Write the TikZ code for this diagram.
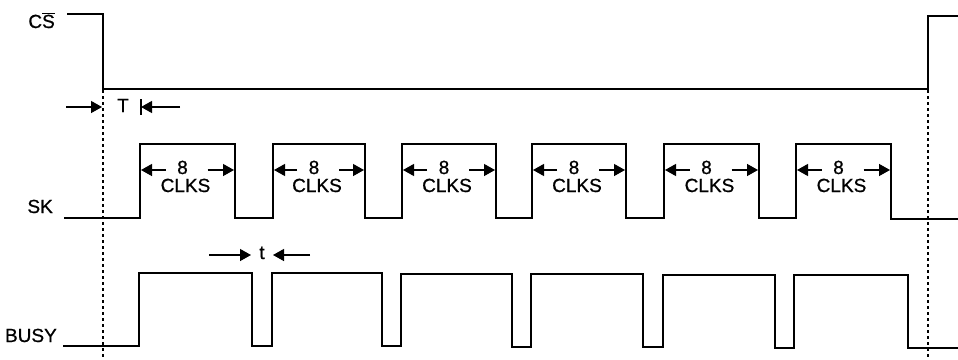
\documentclass[tikz,border=0pt]{standalone}
\usepackage{fontspec}
\setmainfont{Liberation Sans}[BoldFont=Liberation Sans,BoldFeatures={FakeBold=0.8}]
\usetikzlibrary{arrows.meta}
\begin{document}
\begin{tikzpicture}[x=1pt,y=-1pt,
  wave/.style={line width=1.4pt,line join=miter},
  guide/.style={line width=1.2pt,dash pattern=on 3pt off 3pt},
  dim/.style={line width=1.3pt,-{Triangle[length=11pt,width=12pt]}},
  lbl/.style={font=\fontsize{19}{21}\bfseries,inner sep=0pt},
  sig/.style={lbl,anchor=base east}]
\useasboundingbox (0,0) rectangle (958,359);
% labels
\node[sig] (cs) at (55,28) {C$\overline{\mbox{S}}$};
\node[sig] (sk) at (53,213) {SK};
\node[sig] (busy) at (57,342) {BUSY};
% CS waveform
\draw[wave] (67,14) -- (103,14) -- (103,89) -- (928,89) -- (928,16) -- (958,16);
% guides
\draw[guide] (103,90) -- (103,359);
\draw[guide] (928,90) -- (928,359);
% SK waveform
\draw[wave] (64,218) -- (140,218) -- (140,144) -- (235,144) -- (235,218)
  -- (273,218) -- (273,144) -- (365,144) -- (365,218)
  -- (402,218) -- (402,144) -- (496,144) -- (496,218)
  -- (532,218) -- (532,144) -- (626,144) -- (626,218)
  -- (664,218) -- (664,144) -- (759,144) -- (759,218)
  -- (796,218) -- (796,144) -- (891,144) -- (891,219) -- (958,219);
% BUSY waveform
\draw[wave] (63,346) -- (139,346) -- (139,273) -- (252,273) -- (252,346)
  -- (272,346) -- (272,273) -- (382,273) -- (382,346)
  -- (401,346) -- (401,274) -- (512,274) -- (512,347)
  -- (531,347) -- (531,274) -- (643,274) -- (643,347)
  -- (663,347) -- (663,275) -- (775,275) -- (775,348)
  -- (794,348) -- (794,275) -- (908,275) -- (908,348) -- (958,348);
% T dimension
\node[lbl,anchor=base] (T) at (123,112) {T};
\coordinate (ta1) at (66,107);
\coordinate (ta2) at (102,107);
\coordinate (tb1) at (180,107);
\coordinate (tb2) at (141,107);
\draw[dim] (ta1) -- (ta2);
\draw[dim] (tb1) -- (tb2);
\draw[line width=1.3pt] (141,99) -- (141,115);
% t dimension
\node[lbl,anchor=base] (tsmall) at (262,259) {t};
\coordinate (sa1) at (209,255);
\coordinate (sa2) at (251,255);
\coordinate (sb1) at (310,255);
\coordinate (sb2) at (273,255);
\draw[dim] (sa1) -- (sa2);
\draw[dim] (sb1) -- (sb2);
% 8 CLKS labels
\foreach \L/\R [count=\i] in {140/235,273/365,402/496,532/626,664/759,796/891}{
  \pgfmathsetmacro{\c}{(\L+\R)/2}
  \node[lbl,anchor=base] (eight\i) at (\c-5,174) {8};
  \node[lbl,anchor=base] (clks\i) at (\c-2,192) {CLKS};
  \coordinate (la\i) at (\c-22,170);
  \coordinate (lb\i) at (\L+1,170);
  \coordinate (ra\i) at (\c+20,170);
  \coordinate (rb\i) at (\R-1,170);
  \draw[dim] (la\i) -- (lb\i);
  \draw[dim] (ra\i) -- (rb\i);
}
\end{tikzpicture}
\end{document}
